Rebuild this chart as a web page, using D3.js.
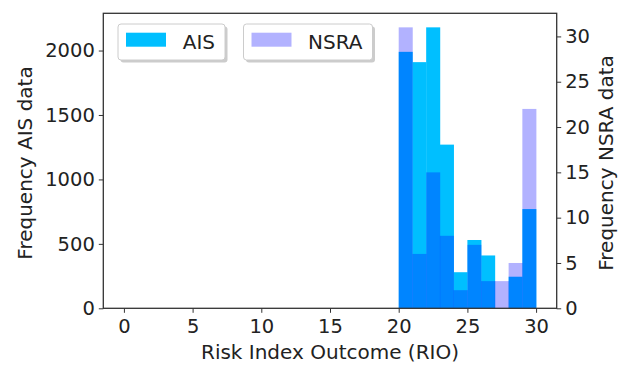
<!DOCTYPE html>
<html>
<head>
<meta charset="utf-8">
<script src="https://cdn.jsdelivr.net/npm/d3@7"></script>
<style>
  body { margin: 0; background: #fff; }
  svg text { font-family: "DejaVu Sans", sans-serif; fill: #222; }
</style>
</head>
<body>
<div id="chart"></div>
<script>
// histogram bins (left edges, width 1)
const binStarts = [20, 21, 22, 23, 24, 25, 26, 27, 28, 29];
const aisCounts = [1990, 1910, 2180, 1270, 280, 530, 410, 0, 245, 770];
const nsraCounts = [31, 6, 15, 8, 2, 7, 3, 3, 5, 22];
const xTicks = [0, 5, 10, 15, 20, 25, 30];
const aisTicks = [0, 500, 1000, 1500, 2000];
const nsraTicks = [0, 5, 10, 15, 20, 25, 30];

const W = 626, H = 366;
const margin = { top: 13.3, right: 69.3, bottom: 57.7, left: 103.3 };
const width = W - margin.left - margin.right;
const height = H - margin.top - margin.bottom;

const svg = d3.select("#chart").append("svg")
    .attr("width", W)
    .attr("height", H);

const g = svg.append("g")
    .attr("transform", `translate(${margin.left}, ${margin.top})`);

const x = d3.scaleLinear().domain([-1.5, 31.5]).range([0, width]);
const yAis = d3.scaleLinear().domain([0, d3.max(aisCounts) * 1.05]).range([height, 0]);
const yNsra = d3.scaleLinear().domain([0, d3.max(nsraCounts) * 1.05]).range([height, 0]);

const ais = binStarts.map((b, i) => ({ x0: b, x1: b + 1, v: aisCounts[i] }));
const nsra = binStarts.map((b, i) => ({ x0: b, x1: b + 1, v: nsraCounts[i] }));

// AIS bars
g.append("g").selectAll("rect")
    .data(ais)
    .join("rect")
    .attr("x", d => x(d.x0))
    .attr("width", d => x(d.x1) - x(d.x0) + 0.3)
    .attr("y", d => yAis(d.v))
    .attr("height", d => yAis(0) - yAis(d.v))
    .attr("fill", "#00bfff");

// NSRA bars on twin axis, semi transparent
g.append("g").selectAll("rect")
    .data(nsra)
    .join("rect")
    .attr("x", d => x(d.x0))
    .attr("width", d => x(d.x1) - x(d.x0) + 0.3)
    .attr("y", d => yNsra(d.v))
    .attr("height", d => yNsra(0) - yNsra(d.v))
    .attr("fill", "blue")
    .attr("fill-opacity", 0.3);

// axes
const fs = "19.5px";
const fsLabel = "20px";
const xAxis = g.append("g")
    .attr("transform", `translate(0, ${height})`)
    .call(d3.axisBottom(x).tickValues(xTicks).tickSize(4.5).tickPadding(4).tickFormat(d3.format("d")));
const yAxisL = g.append("g")
    .call(d3.axisLeft(yAis).tickValues(aisTicks).tickSize(4.5).tickPadding(4).tickFormat(d3.format("d")));
const yAxisR = g.append("g")
    .attr("transform", `translate(${width}, 0)`)
    .call(d3.axisRight(yNsra).tickValues(nsraTicks).tickSize(4.5).tickPadding(4).tickFormat(d3.format("d")));

[xAxis, yAxisL, yAxisR].forEach(a => {
    a.select(".domain").remove();
    a.selectAll(".tick line").attr("stroke", "#333").attr("stroke-width", 1);
    a.selectAll(".tick text").style("font-size", fs).attr("fill", "#222");
});
xAxis.selectAll(".tick text").attr("dy", "0.85em");

// frame
g.append("rect")
    .attr("width", width)
    .attr("height", height)
    .attr("fill", "none")
    .attr("stroke", "#333")
    .attr("stroke-width", 1.3);

// axis labels
svg.append("text")
    .attr("x", margin.left + width / 2)
    .attr("y", 359)
    .attr("text-anchor", "middle")
    .style("font-size", fsLabel)
    .text("Risk Index Outcome (RIO)");

svg.append("text")
    .attr("transform", "translate(32, 163) rotate(-90)")
    .attr("text-anchor", "middle")
    .style("font-size", fsLabel)
    .text("Frequency AIS data");

svg.append("text")
    .attr("transform", "translate(613, 163) rotate(-90)")
    .attr("text-anchor", "middle")
    .style("font-size", fsLabel)
    .text("Frequency NSRA data");

// legends (two separate boxes with shadow)
const legends = [
    { label: "AIS", color: "#00bfff", opacity: 1, x: 118, w: 107 },
    { label: "NSRA", color: "blue", opacity: 0.3, x: 243.5, w: 129 }
];
const lg = svg.append("g").selectAll("g")
    .data(legends)
    .join("g")
    .attr("transform", d => `translate(${d.x}, 24)`);

lg.append("rect")
    .attr("x", 2.5).attr("y", 2.5)
    .attr("width", d => d.w).attr("height", 36)
    .attr("rx", 3)
    .attr("fill", "#999")
    .attr("opacity", 0.5);
lg.append("rect")
    .attr("width", d => d.w).attr("height", 36)
    .attr("rx", 3)
    .attr("fill", "#fff")
    .attr("stroke", "#ccc");
lg.append("rect")
    .attr("x", 8).attr("y", 8.7)
    .attr("width", 40).attr("height", 14)
    .attr("fill", d => d.color)
    .attr("fill-opacity", d => d.opacity);
lg.append("text")
    .attr("x", d => d.w - 10)
    .attr("y", 18)
    .attr("dy", "0.35em")
    .attr("text-anchor", "end")
    .style("font-size", fsLabel)
    .text(d => d.label);
</script>
</body>
</html>
